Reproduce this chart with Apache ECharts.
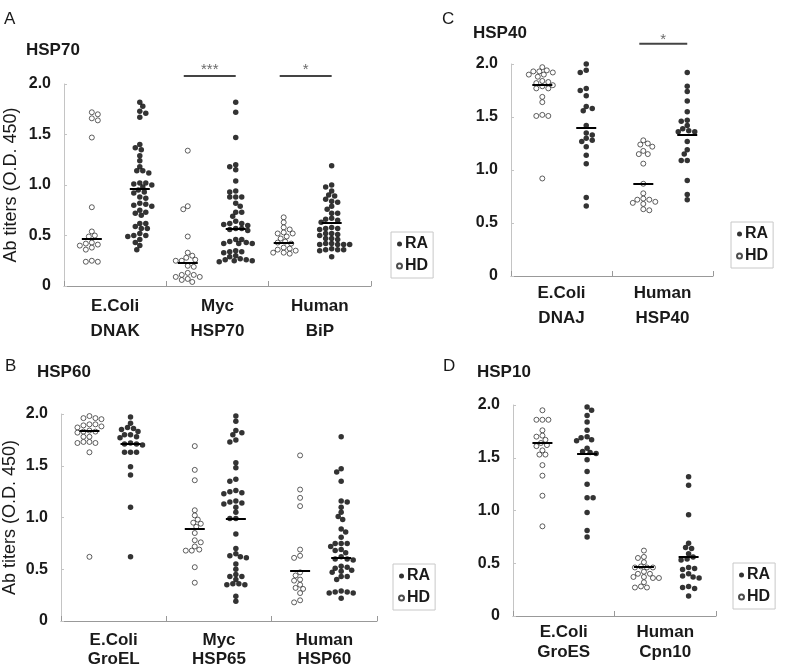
<!DOCTYPE html>
<html><head><meta charset="utf-8">
<script src="https://cdn.jsdelivr.net/npm/echarts@6/dist/echarts.min.js"></script>
<style>html,body{margin:0;padding:0;background:#fff}#c{width:787px;height:670px}</style>
</head><body><div id="c"></div>
<script>
// ---------------- DATA ----------------
const yTickLabels = ['0', '0.5', '1.0', '1.5', '2.0'];
const yAxisName = 'Ab titers (O.D. 450)';
const seriesNames = ['RA', 'HD'];

// Panel A - HSP70
const catsA = ['E.Coli\nDNAK', 'Myc\nHSP70', 'Human\nBiP'];
const A_HD_DNAK = [1.72, 1.70, 1.66, 1.64, 1.47, 0.78, 0.54, 0.50, 0.49, 0.43, 0.42, 0.41, 0.40, 0.38, 0.36, 0.25, 0.24, 0.24];
const A_RA_DNAK = [1.82, 1.78, 1.73, 1.71, 1.67, 1.40, 1.37, 1.35, 1.29, 1.24, 1.18, 1.14, 1.14, 1.12, 1.02, 1.02, 1.01, 1.00, 0.98, 0.95, 0.93, 0.92, 0.88, 0.87, 0.82, 0.81, 0.80, 0.79, 0.75, 0.73, 0.72, 0.70, 0.62, 0.62, 0.59, 0.57, 0.57, 0.52, 0.50, 0.50, 0.49, 0.46, 0.43, 0.40, 0.36];
const A_HD_HSP70 = [1.34, 0.79, 0.76, 0.49, 0.33, 0.30, 0.28, 0.26, 0.25, 0.25, 0.20, 0.19, 0.13, 0.11, 0.11, 0.09, 0.09, 0.07, 0.06, 0.04];
const A_RA_HSP70 = [1.82, 1.72, 1.47, 1.20, 1.18, 1.15, 1.04, 0.94, 0.93, 0.88, 0.88, 0.88, 0.82, 0.79, 0.73, 0.73, 0.69, 0.64, 0.62, 0.62, 0.61, 0.60, 0.57, 0.57, 0.56, 0.55, 0.46, 0.46, 0.44, 0.43, 0.42, 0.42, 0.42, 0.35, 0.34, 0.34, 0.33, 0.30, 0.29, 0.27, 0.26, 0.26, 0.25, 0.25, 0.24];
const A_HD_BiP = [0.68, 0.63, 0.58, 0.56, 0.53, 0.52, 0.52, 0.49, 0.47, 0.44, 0.43, 0.42, 0.38, 0.37, 0.36, 0.35, 0.33, 0.33, 0.32];
const A_RA_BiP = [1.19, 1.00, 0.98, 0.94, 0.90, 0.89, 0.86, 0.84, 0.83, 0.79, 0.76, 0.72, 0.72, 0.67, 0.66, 0.65, 0.63, 0.58, 0.57, 0.57, 0.56, 0.52, 0.52, 0.51, 0.50, 0.47, 0.47, 0.46, 0.42, 0.42, 0.41, 0.41, 0.41, 0.41, 0.37, 0.36, 0.36, 0.36, 0.35, 0.29];
const A_medHD = [0.47, 0.23, 0.43];
const A_medRA = [0.96, 0.57, 0.63];
const A_sig = ['', '***', '*'];

// Panel B - HSP60
const catsB = ['E.Coli\nGroEL', 'Myc\nHSP65', 'Human\nHSP60'];
const B_HD_GroEL = [1.98, 1.96, 1.96, 1.95, 1.90, 1.90, 1.89, 1.88, 1.87, 1.84, 1.83, 1.83, 1.82, 1.78, 1.78, 1.73, 1.73, 1.72, 1.72, 1.63, 0.62];
const B_RA_GroEL = [1.97, 1.91, 1.87, 1.86, 1.85, 1.83, 1.80, 1.80, 1.78, 1.77, 1.72, 1.71, 1.71, 1.70, 1.63, 1.63, 1.63, 1.49, 1.41, 1.10, 0.62];
const B_HD_HSP65 = [1.69, 1.46, 1.36, 1.07, 1.02, 0.98, 0.95, 0.94, 0.91, 0.85, 0.78, 0.76, 0.72, 0.69, 0.68, 0.68, 0.52, 0.37];
const B_RA_HSP65 = [1.98, 1.93, 1.84, 1.82, 1.80, 1.75, 1.73, 1.53, 1.48, 1.37, 1.35, 1.26, 1.25, 1.24, 1.23, 1.16, 1.15, 1.14, 1.13, 1.10, 1.05, 0.99, 0.99, 0.84, 0.70, 0.65, 0.63, 0.62, 0.61, 0.55, 0.50, 0.45, 0.43, 0.43, 0.40, 0.36, 0.36, 0.35, 0.35, 0.24, 0.19];
const B_HD_HSP60 = [1.60, 1.27, 1.19, 1.11, 0.69, 0.63, 0.61, 0.47, 0.44, 0.40, 0.39, 0.35, 0.32, 0.31, 0.27, 0.20, 0.18];
const B_RA_HSP60 = [1.78, 1.47, 1.44, 1.35, 1.16, 1.15, 1.10, 1.05, 1.01, 0.98, 0.89, 0.86, 0.81, 0.75, 0.75, 0.75, 0.72, 0.69, 0.68, 0.66, 0.62, 0.60, 0.60, 0.59, 0.53, 0.52, 0.51, 0.49, 0.48, 0.47, 0.43, 0.43, 0.40, 0.29, 0.28, 0.27, 0.27, 0.28, 0.22];
const B_medHD = [1.84, 0.89, 0.49];
const B_medRA = [1.71, 0.99, 0.61];
const B_sig = ['', '', ''];

// Panel C - HSP40
const catsC = ['E.Coli\nDNAJ', 'Human\nHSP40'];
const C_HD_DNAJ = [1.97, 1.94, 1.93, 1.93, 1.92, 1.90, 1.90, 1.88, 1.84, 1.83, 1.82, 1.80, 1.79, 1.77, 1.77, 1.69, 1.64, 1.52, 1.51, 1.51, 0.92];
const C_RA_DNAJ = [2.00, 1.94, 1.92, 1.77, 1.75, 1.70, 1.60, 1.58, 1.56, 1.42, 1.35, 1.33, 1.30, 1.28, 1.27, 1.22, 1.14, 1.06, 0.74, 0.66];
const C_HD_HSP40 = [1.28, 1.25, 1.24, 1.22, 1.18, 1.15, 1.15, 1.06, 0.87, 0.78, 0.73, 0.72, 0.72, 0.70, 0.69, 0.68, 0.63, 0.62];
const C_RA_HSP40 = [1.92, 1.79, 1.74, 1.65, 1.55, 1.47, 1.46, 1.42, 1.39, 1.37, 1.36, 1.36, 1.27, 1.19, 1.15, 1.09, 1.09, 0.90, 0.77, 0.72];
const C_medHD = [1.80, 0.87];
const C_medRA = [1.40, 1.33];
const C_sig = ['', '*'];

// Panel D - HSP10
const catsD = ['E.Coli\nGroES', 'Human\nCpn10'];
const D_HD_GroES = [1.95, 1.86, 1.86, 1.86, 1.76, 1.71, 1.70, 1.67, 1.64, 1.62, 1.61, 1.57, 1.53, 1.53, 1.43, 1.33, 1.14, 0.85];
const D_RA_GroES = [1.98, 1.95, 1.90, 1.84, 1.76, 1.70, 1.69, 1.67, 1.66, 1.59, 1.56, 1.55, 1.54, 1.48, 1.37, 1.25, 1.12, 1.12, 0.98, 0.81, 0.75];
const D_HD_Cpn10 = [0.62, 0.56, 0.55, 0.51, 0.47, 0.46, 0.46, 0.46, 0.42, 0.40, 0.40, 0.37, 0.37, 0.36, 0.36, 0.32, 0.28, 0.27, 0.27];
const D_RA_Cpn10 = [1.32, 1.24, 0.96, 0.69, 0.65, 0.64, 0.59, 0.56, 0.54, 0.53, 0.46, 0.45, 0.44, 0.40, 0.38, 0.37, 0.36, 0.28, 0.27, 0.26, 0.19];
const D_medHD = [1.64, 0.47];
const D_medRA = [1.54, 0.56];
const D_sig = ['', ''];

// ---------------- LAYOUT ----------------
const FONT = '"Liberation Sans", Arial, Helvetica, sans-serif';
const panels = [
  { letter: 'A', title: 'HSP70', cats: catsA,
    hd: [A_HD_DNAK, A_HD_HSP70, A_HD_BiP], ra: [A_RA_DNAK, A_RA_HSP70, A_RA_BiP],
    medHD: A_medHD, medRA: A_medRA, sig: A_sig,
    grid: { left: 64, top: 84, width: 307, height: 202 }, xmax: 3.2, off: [0.29, 0.79],
    labMargin: 8, labLH: 25, yName: true, nameGap: 44, sigY: 2.08, starDy: -6,
    letterPos: [4, 11], titlePos: [26, 42], legendPos: [391, 232] },
  { letter: 'B', title: 'HSP60', cats: catsB,
    hd: [B_HD_GroEL, B_HD_HSP65, B_HD_HSP60], ra: [B_RA_GroEL, B_RA_HSP65, B_RA_HSP60],
    medHD: B_medHD, medRA: B_medRA, sig: B_sig,
    grid: { left: 61, top: 414, width: 316, height: 207 }, xmax: 3, off: [0.27, 0.66],
    labMargin: 10, labLH: 19, yName: true, nameGap: 42, sigY: 2.08, starDy: -6,
    letterPos: [5, 358], titlePos: [37, 364], legendPos: [393, 564] },
  { letter: 'C', title: 'HSP40', cats: catsC,
    hd: [C_HD_DNAJ, C_HD_HSP40], ra: [C_RA_DNAJ, C_RA_HSP40],
    medHD: C_medHD, medRA: C_medRA, sig: C_sig,
    grid: { left: 511, top: 64, width: 202, height: 212 }, xmax: 2, off: [0.31, 0.745],
    labMargin: 5, labLH: 25, yName: false, nameGap: 40, sigY: 2.19, starDy: -4,
    letterPos: [442, 11], titlePos: [473, 25], legendPos: [731, 222] },
  { letter: 'D', title: 'HSP10', cats: catsD,
    hd: [D_HD_GroES, D_HD_Cpn10], ra: [D_RA_GroES, D_RA_Cpn10],
    medHD: D_medHD, medRA: D_medRA, sig: D_sig,
    grid: { left: 513, top: 405, width: 203, height: 211 }, xmax: 2, off: [0.29, 0.73],
    labMargin: 6, labLH: 20, yName: false, nameGap: 40, sigY: 2.1, starDy: -5,
    letterPos: [443, 358], titlePos: [477, 364], legendPos: [733, 563] }
];

// Deterministic beeswarm: pixel offsets so dots do not overlap much
function swarm(vals, pxY, step, minD) {
  const order = vals.map((v, k) => k).sort((a, b) => vals[b] - vals[a]);
  const placed = [];
  const offs = new Array(vals.length).fill(0);
  order.forEach((k, n) => {
    const y = vals[k] * pxY;
    const sgn = n % 2 ? 1 : -1;
    for (let j = 0; j < 200; j++) {
      const m = Math.ceil(j / 2);
      const cand = j === 0 ? 0 : (j % 2 ? sgn : -sgn) * m * step;
      const ok = placed.every(p => (p.x - cand) * (p.x - cand) + (p.y - y) * (p.y - y) >= minD * minD);
      if (ok) { placed.push({ x: cand, y }); offs[k] = cand; break; }
    }
  });
  return offs;
}

const txt = (size, extra) => Object.assign({ fontSize: size, color: '#1a1a1a', fontFamily: FONT, fontWeight: 'normal' }, extra || {});

const option = { animation: false, backgroundColor: '#fff', title: [], legend: [], grid: [], xAxis: [], yAxis: [], series: [] };

panels.forEach((p, pi) => {
  const pxX = p.grid.width / p.xmax;
  const pxY = p.grid.height / 2;
  option.title.push({ text: p.letter, left: p.letterPos[0], top: p.letterPos[1], padding: 0, textStyle: txt(17) });
  option.title.push({ text: p.title, left: p.titlePos[0], top: p.titlePos[1], padding: 0, textStyle: txt(17, { fontWeight: 'bold' }) });
  option.legend.push({
    left: p.legendPos[0], top: p.legendPos[1], orient: 'vertical', data: seriesNames, icon: 'circle',
    itemWidth: 5, itemHeight: 5, itemGap: 6, padding: [4, 5, 4, 5], borderColor: '#c8c8c8', borderWidth: 1,
    selectedMode: false, textStyle: txt(16, { fontWeight: 'bold', padding: [0, 0, 0, -2] })
  });
  option.grid.push(Object.assign({ containLabel: false, outerBoundsMode: 'none' }, p.grid));
  option.xAxis.push({
    type: 'category', gridIndex: pi, data: p.cats, boundaryGap: true,
    axisLine: { show: true, lineStyle: { color: '#999', width: 1 } },
    axisTick: { show: true, inside: true, length: 5, lineStyle: { color: '#999' } },
    axisLabel: Object.assign({ interval: 0, margin: p.labMargin, lineHeight: p.labLH }, txt(17, { fontWeight: 'bold' })),
    splitLine: { show: false }
  });
  option.xAxis.push({ type: 'value', gridIndex: pi, min: 0, max: p.xmax, show: false });
  option.yAxis.push({
    type: 'value', gridIndex: pi, min: 0, max: 2, interval: 0.5,
    axisLine: { show: true, lineStyle: { color: '#c4c4c4' } },
    axisTick: { show: true, inside: true, length: 3, lineStyle: { color: '#c4c4c4' } },
    axisLabel: Object.assign({ margin: 13, formatter: v => yTickLabels[Math.round(v / 0.5)] }, txt(16, { fontWeight: 'bold' })),
    splitLine: { show: false },
    name: p.yName ? yAxisName : '', nameLocation: 'middle', nameGap: p.nameGap,
    nameTextStyle: txt(18)
  });

  const xi = pi * 2 + 1;
  const half = 10 / pxX;
  [['HD', p.hd, p.medHD, 0], ['RA', p.ra, p.medRA, 1]].forEach(([name, groups, meds, si]) => {
    const data = [];
    groups.forEach((vals, i) => {
      const offs = swarm(vals, pxY, 1.5, 5.0);
      vals.forEach((v, k) => data.push([i + p.off[si] + offs[k] / pxX, v]));
    });
    option.series.push({
      type: 'scatter', name, xAxisIndex: xi, yAxisIndex: pi, symbol: 'circle',
      symbolSize: name === 'RA' ? 5.5 : 5,
      itemStyle: name === 'RA' ? { color: '#000' } : { color: '#fff', borderColor: '#222', borderWidth: 0.9 },
      data, silent: true, z: 3,
      markLine: {
        silent: true, symbol: ['none', 'none'], label: { show: false }, animation: false,
        lineStyle: { color: '#000', width: 2, type: 'solid' },
        emphasis: { disabled: true },
        data: meds.map((m, i) => [{ coord: [i + p.off[si] - half, m] }, { coord: [i + p.off[si] + half, m] }])
      }
    });
  });

  p.sig.forEach((s, i) => {
    if (!s) return;
    const x1 = i + p.off[0] - 4 / pxX, x2 = i + p.off[1];
    option.series.push({
      type: 'line', name: 'sig', xAxisIndex: xi, yAxisIndex: pi, clip: false, symbol: 'none', silent: true,
      lineStyle: { color: '#444', width: 2 }, data: [[x1, p.sigY], [x2, p.sigY]]
    });
    option.series.push({
      type: 'scatter', name: 'sigText', xAxisIndex: xi, yAxisIndex: pi, clip: false, silent: true,
      symbolSize: 1, itemStyle: { color: 'transparent' },
      label: { show: true, position: 'inside', offset: [0, p.starDy], formatter: s, fontSize: 15, color: '#444', fontFamily: FONT },
      data: [[(x1 + x2) / 2, p.sigY]]
    });
  });
});

const chart = echarts.init(document.getElementById('c'), null, { renderer: 'canvas' });
chart.setOption(option);
</script>
</body></html>
